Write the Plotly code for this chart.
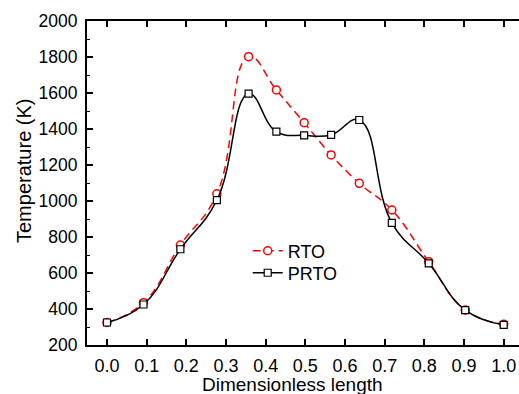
import plotly.graph_objects as go

x_pos = [0.0, 0.092, 0.185, 0.277, 0.357, 0.427, 0.497, 0.565, 0.636, 0.718, 0.811, 0.903, 1.0]
rto = [325, 435, 755, 1040, 1802, 1617, 1435, 1256, 1098, 950, 663, 394, 315]
prto = [325, 425, 732, 1005, 1596, 1385, 1365, 1367, 1450, 879, 654, 394, 312]
x_ticks = [0.0, 0.1, 0.2, 0.3, 0.4, 0.5, 0.6, 0.7, 0.8, 0.9, 1.0]
x_ticklabels = ["0.0", "0.1", "0.2", "0.3", "0.4", "0.5", "0.6", "0.7", "0.8", "0.9", "1.0"]
y_ticks = [200, 400, 600, 800, 1000, 1200, 1400, 1600, 1800, 2000]

FONT = "Arial, Liberation Sans, sans-serif"

fig = go.Figure()
fig.add_trace(go.Scatter(
    x=x_pos, y=rto, name="RTO", mode="lines+markers", legend="legend",
    line=dict(color="#ff0000", width=1.5, dash="8px,5px", shape="spline", smoothing=1.3),
    marker=dict(symbol="circle", size=8, color="white", line=dict(color="#ff0000", width=1.5)),
))
fig.add_trace(go.Scatter(
    x=x_pos, y=prto, name="PRTO", mode="lines+markers", legend="legend2",
    line=dict(color="black", width=1.5, shape="spline", smoothing=1.25),
    marker=dict(symbol="square", size=7, color="white", line=dict(color="black", width=1.2)),
))

leg_common = dict(xanchor="left", yanchor="middle", bgcolor="rgba(0,0,0,0)",
                  font=dict(size=18, family=FONT), borderwidth=0)

fig.update_layout(
    width=519, height=394,
    margin=dict(l=87, r=0, t=21, b=49),
    paper_bgcolor="white", plot_bgcolor="white",
    font=dict(family=FONT, size=18, color="black"),
    showlegend=True,
    legend=dict(x=0.372, y=0.29, **leg_common),
    legend2=dict(x=0.372, y=0.222, **leg_common),
    xaxis=dict(
        range=[-0.0504, 1.0386], tickvals=x_ticks, ticktext=x_ticklabels,
        ticks="inside", ticklen=6, tickwidth=1.5, tickcolor="black",
        showline=True, linewidth=2, linecolor="black", mirror="ticks",
        showgrid=False, zeroline=False, tickfont=dict(size=18),
        ticklabelstandoff=3,
    ),
    yaxis=dict(
        range=[200, 2000], tickvals=y_ticks,
        ticks="inside", ticklen=6, tickwidth=1.5, tickcolor="black",
        minor=dict(dtick=100, tick0=200, ticks="inside", ticklen=3, tickwidth=1.2, tickcolor="black"),
        showline=True, linewidth=2, linecolor="black", mirror=False,
        showgrid=False, zeroline=False, tickfont=dict(size=17.5),
        ticklabelstandoff=4,
    ),
    annotations=[
        dict(text="Dimensionless length", xref="paper", yref="paper",
             x=0.4757, y=-0.123, xanchor="center", yanchor="middle",
             showarrow=False, font=dict(size=19, family=FONT)),
        dict(text="Temperature (K)", xref="paper", yref="paper",
             x=-0.1458, y=0.537, xanchor="center", yanchor="middle", textangle=-90,
             showarrow=False, font=dict(size=20, family=FONT)),
    ],
)

fig.write_html("out.html")
